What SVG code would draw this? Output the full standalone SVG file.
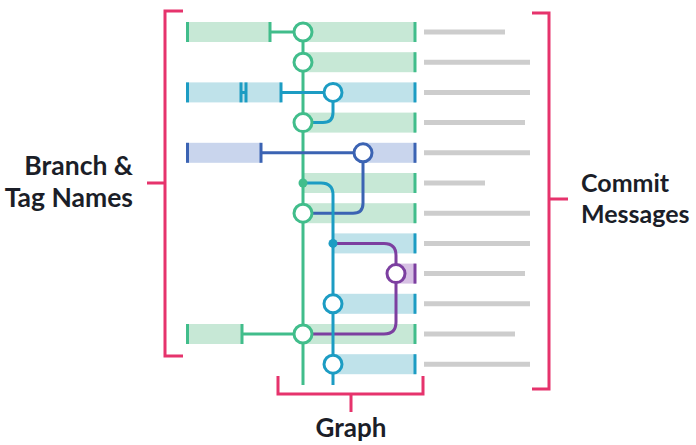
<svg xmlns="http://www.w3.org/2000/svg" width="696" height="445" viewBox="0 0 696 445">
<style>
.lbl{font-family:Lato,"Noto Sans",sans-serif;font-weight:700;font-size:25px;fill:#1b1e28}
.big{font-size:26.5px}
.brk{fill:none;stroke:#e6336c;stroke-width:3}
.msg{stroke:#cdcdcd;stroke-width:5}
.c{fill:#fff;stroke-width:3}
.ln{fill:none;stroke-width:3}
.g{stroke:#41bd8b}.gf{fill:#c7e8d6}
.t{stroke:#1c9cc3}.tf{fill:#bfe2ea}
.b{stroke:#3b63b3}.bf{fill:#c9d5ed}
.p{stroke:#7c3fa0}.pf{fill:#d7c1e4}
.tick{stroke-width:3}
</style>
<rect width="696" height="445" fill="#fff"/>
<g id="brackets">
<path class="brk" d="M183,11 H165 V356 H183 M165,183 H147"/>
<path class="brk" d="M532,13 H549 V389 H532 M549,199 H568"/>
<path class="brk" d="M278,376 V394 H423 V376 M351,394 V412"/>
</g>
<g id="labels">
<text class="lbl big" x="133" y="175" text-anchor="end">Branch &amp;</text>
<text class="lbl big" x="133" y="207" text-anchor="end">Tag Names</text>
<text class="lbl" x="581" y="192">Commit</text>
<text class="lbl" x="581" y="223">Messages</text>
<text class="lbl" x="351" y="437" text-anchor="middle" style="font-size:26px">Graph</text>
</g>
<g id="bars">
<rect class="gf" x="303" y="22" width="113" height="20"/><line class="g tick" x1="415" y1="22" x2="415" y2="42"/>
<rect class="gf" x="303" y="52.2" width="113" height="20"/><line class="g tick" x1="415" y1="52.2" x2="415" y2="72.2"/>
<rect class="tf" x="333" y="82.4" width="83" height="20"/><line class="t tick" x1="415" y1="82.4" x2="415" y2="102.4"/>
<rect class="gf" x="303" y="112.6" width="113" height="20"/><line class="g tick" x1="415" y1="112.6" x2="415" y2="132.6"/>
<rect class="bf" x="363" y="142.8" width="53" height="20"/><line class="b tick" x1="415" y1="142.8" x2="415" y2="162.8"/>
<rect class="gf" x="303" y="173" width="113" height="20"/><line class="g tick" x1="415" y1="173" x2="415" y2="193"/>
<rect class="gf" x="303" y="203.2" width="113" height="20"/><line class="g tick" x1="415" y1="203.2" x2="415" y2="223.2"/>
<rect class="tf" x="333" y="233.4" width="83" height="20"/><line class="t tick" x1="415" y1="233.4" x2="415" y2="253.4"/>
<rect class="pf" x="396" y="263.6" width="20" height="20"/><line class="p tick" x1="415" y1="263.6" x2="415" y2="283.6"/>
<rect class="tf" x="333" y="293.8" width="83" height="20"/><line class="t tick" x1="415" y1="293.8" x2="415" y2="313.8"/>
<rect class="gf" x="303" y="324" width="113" height="20"/><line class="g tick" x1="415" y1="324" x2="415" y2="344"/>
<rect class="tf" x="333" y="354.2" width="83" height="20"/><line class="t tick" x1="415" y1="354.2" x2="415" y2="374.2"/>
</g>
<g id="branch-tags">
<rect class="gf" x="186" y="22" width="84" height="20"/><line class="g tick" x1="187.5" y1="22" x2="187.5" y2="42"/><line class="g tick" x1="270" y1="22" x2="270" y2="42"/>
<rect class="tf" x="186" y="82.4" width="95" height="20"/><line class="t tick" x1="187.5" y1="82.4" x2="187.5" y2="102.4"/><line class="t tick" x1="241" y1="82.4" x2="241" y2="102.4"/><line class="t tick" x1="246" y1="82.4" x2="246" y2="102.4"/><line class="t tick" x1="281" y1="82.4" x2="281" y2="102.4"/>
<rect class="bf" x="186" y="142.8" width="75" height="20"/><line class="b tick" x1="187.5" y1="142.8" x2="187.5" y2="162.8"/><line class="b tick" x1="261" y1="142.8" x2="261" y2="162.8"/>
<rect class="gf" x="186" y="324" width="56" height="20"/><line class="g tick" x1="187.5" y1="324" x2="187.5" y2="344"/><line class="g tick" x1="242" y1="324" x2="242" y2="344"/>
</g>
<g id="messages">
<line class="msg" x1="424" y1="32" x2="505" y2="32"/>
<line class="msg" x1="424" y1="62.2" x2="530" y2="62.2"/>
<line class="msg" x1="424" y1="92.4" x2="530" y2="92.4"/>
<line class="msg" x1="424" y1="122.6" x2="525" y2="122.6"/>
<line class="msg" x1="424" y1="152.8" x2="530" y2="152.8"/>
<line class="msg" x1="424" y1="183" x2="485" y2="183"/>
<line class="msg" x1="424" y1="213.2" x2="530" y2="213.2"/>
<line class="msg" x1="424" y1="243.4" x2="530" y2="243.4"/>
<line class="msg" x1="424" y1="273.6" x2="525" y2="273.6"/>
<line class="msg" x1="424" y1="303.8" x2="530" y2="303.8"/>
<line class="msg" x1="424" y1="334" x2="515" y2="334"/>
<line class="msg" x1="424" y1="364.2" x2="530" y2="364.2"/>
</g>
<g id="connectors">
<path class="ln g" d="M303,32 V385 M270,32 H303 M242,334 H303"/>
<path class="ln t" d="M241,92.4 H246 M281,92.4 H333 V112.6 Q333,122.6 323,122.6 H303"/>
<path class="ln b" d="M261,152.8 H363 V203.2 Q363,213.2 353,213.2 H303"/>
<path class="ln p" d="M333,243.4 H384 Q396,243.4 396,255.4 V322 Q396,334 384,334 H303"/>
<path class="ln t" d="M303,183 H321 Q333,183 333,195 V385"/>
</g>
<g id="n1"><circle class="c g" cx="303" cy="32" r="9"/></g>
<g id="n2"><circle class="c g" cx="303" cy="62.2" r="9"/></g>
<g id="n3"><circle class="c t" cx="333" cy="92.4" r="9"/></g>
<g id="n4"><circle class="c g" cx="303" cy="122.6" r="9"/></g>
<g id="n5"><circle class="c b" cx="363" cy="152.8" r="9"/></g>
<g id="n6"><circle cx="303" cy="183" r="4.5" fill="#41bd8b"/></g>
<g id="n7"><circle class="c g" cx="303" cy="213.2" r="9"/></g>
<g id="n8"><circle cx="333" cy="243.4" r="4.5" fill="#1c9cc3"/></g>
<g id="n9"><circle class="c p" cx="396" cy="273.6" r="9"/></g>
<g id="n10"><circle class="c t" cx="333" cy="303.8" r="9"/></g>
<g id="n11"><circle class="c g" cx="303" cy="334" r="9"/></g>
<g id="n12"><circle class="c t" cx="333" cy="364.2" r="9"/></g>
</svg>
